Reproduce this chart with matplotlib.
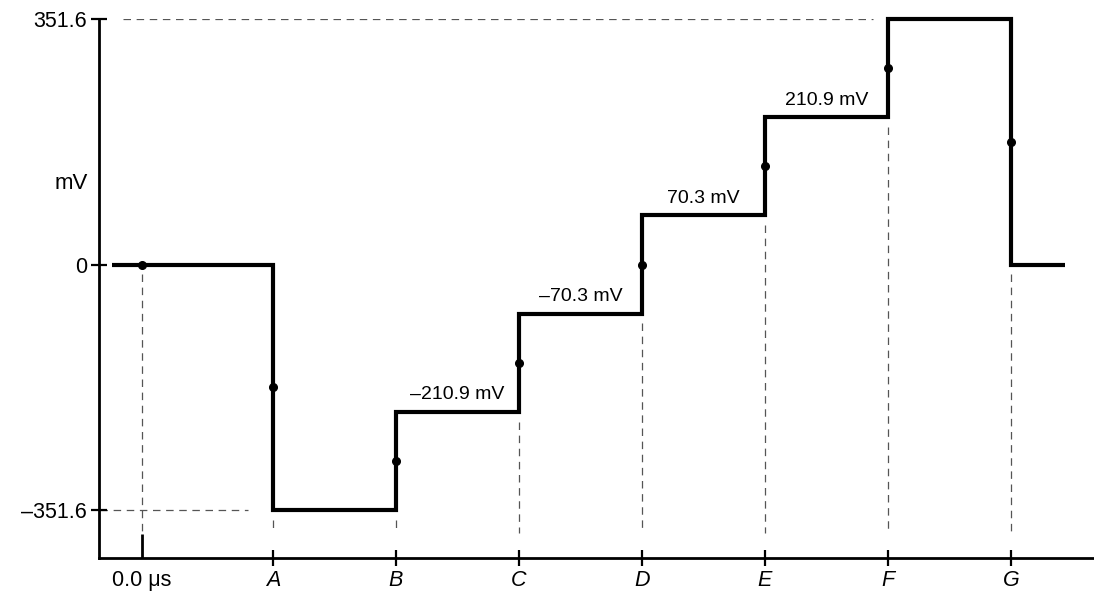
import matplotlib.pyplot as plt
import matplotlib.lines as mlines

plt.rcParams['font.family'] = ['Liberation Sans', 'DejaVu Sans']

# time marks (units of one step) and step levels (mV)
tick_labels = ['0.0 \u03bcs', 'A', 'B', 'C', 'D', 'E', 'F', 'G']
tick_pos = [-0.065, 1, 2, 3, 4, 5, 6, 7]
line_start, line_end = -0.31, 7.44
levels = [0, -351.6, -210.9, -70.3, 70.3, 210.9, 351.6, 0]
step_labels = {2: '\u2013210.9 mV', 3: '\u201370.3 mV', 4: '70.3 mV', 5: '210.9 mV'}
ytick_vals = [351.6, 0, -351.6]
ytick_text = ['351.6', '0', '\u2013351.6']

fig = plt.figure(figsize=(10.94, 5.99), dpi=100)
ax = fig.add_axes([0.0905, 0.0684, 0.9095, 0.8999])
ymin, ymax = -420.3, 351.6
ax.set_xlim(-0.415, 7.675)
ax.set_ylim(ymin, ymax)

# build step path
edges = [line_start] + tick_pos[1:] + [line_end]
xs, ys = [], []
for i, lv in enumerate(levels):
    xs += [edges[i], edges[i + 1]]
    ys += [lv, lv]
ax.plot(xs, ys, color='black', lw=3, solid_joinstyle='miter',
        solid_capstyle='butt', clip_on=False, zorder=3)

# dots at transition midpoints
dot_x = [tick_pos[0]]
dot_y = [levels[0]]
for i in range(1, len(levels)):
    dot_x.append(tick_pos[i])
    dot_y.append((levels[i - 1] + levels[i]) / 2)
ax.plot(dot_x, dot_y, 'o', color='black', ms=5.5, zorder=4, clip_on=False)

# dashed guide lines
dash = dict(color='#555555', lw=0.9, dashes=(6, 4.5), zorder=1)
guide_bottom = -383.8
for i, x in enumerate(tick_pos):
    if i == 0:
        top = levels[0] - 14
    else:
        top = min(levels[i - 1], levels[i]) - 14
    ax.plot([x, x], [top, guide_bottom], **dash)
ax.plot([-0.22, 5.88], [351.6, 351.6], **dash)
ax.plot([-0.41, 0.8], [-351.6, -351.6], **dash)

# step value labels
for k, txt in step_labels.items():
    ax.text(k + 0.5, levels[k] + 12, txt, ha='center', va='bottom', fontsize=14)

# axes styling
for s in ['top', 'right']:
    ax.spines[s].set_visible(False)
ax.spines['left'].set_linewidth(2)
ax.spines['bottom'].set_linewidth(2)
ax.spines['left'].set_bounds(ymin, ymax)

ax.set_xticks(tick_pos)
ax.set_xticklabels(tick_labels)
for lab in ax.get_xticklabels()[1:]:
    lab.set_style('italic')
ax.set_yticks(ytick_vals)
ax.set_yticklabels(ytick_text)
ax.tick_params(axis='both', direction='inout', length=11, width=1.6,
               labelsize=15.5, colors='black')
ax.tick_params(axis='x', pad=3)
ax.tick_params(axis='y', pad=3)

t0 = ax.xaxis.get_major_ticks()[0]
t0.tick1line.set_marker(mlines.TICKUP)
t0.tick1line.set_markersize(17)
t0.tick1line.set_markeredgewidth(2)

ax.text(-0.011, 0.695, 'mV', transform=ax.transAxes, ha='right', va='center',
        fontsize=16)

fig.savefig('out.png', dpi=100)
